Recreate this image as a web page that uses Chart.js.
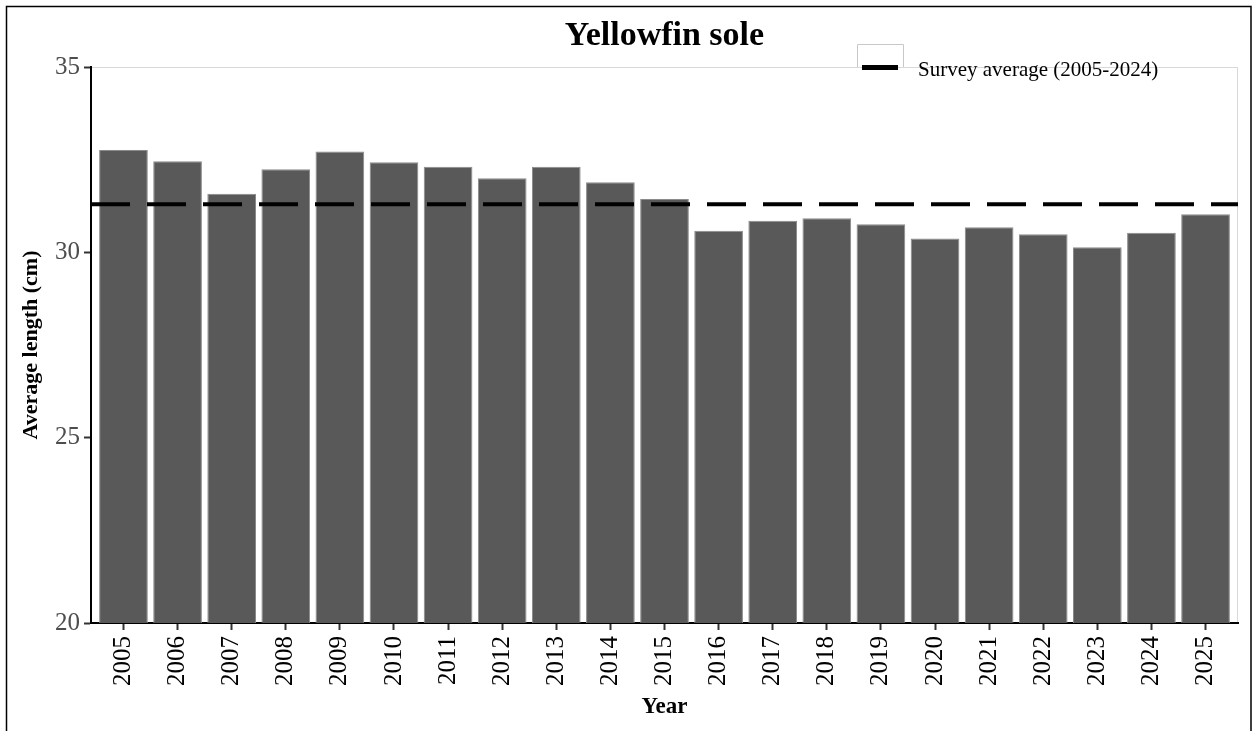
<!DOCTYPE html>
<html>
<head>
<meta charset="utf-8">
<script src="https://cdn.jsdelivr.net/npm/chart.js@4"></script>
<style>
  html, body { margin: 0; padding: 0; background: #ffffff; }
  #wrap { width: 1254px; height: 731px; position: relative; }
</style>
</head>
<body>
<div id="wrap"><canvas id="chart" width="1254" height="731"></canvas></div>
<script>
var years = [2005, 2006, 2007, 2008, 2009, 2010, 2011, 2012, 2013, 2014, 2015,
  2016, 2017, 2018, 2019, 2020, 2021, 2022, 2023, 2024, 2025];
var avgLength = [32.76, 32.46, 31.58, 32.24, 32.72, 32.43, 32.31, 32.00, 32.31, 31.89, 31.44,
  30.58, 30.85, 30.92, 30.76, 30.37, 30.68, 30.49, 30.14, 30.53, 31.03];
var surveyAverage = [31.30];
var yTicks = [20, 25, 30, 35];

var serif = "'Liberation Serif', 'DejaVu Serif', serif";

var frame = {
  id: 'frame',
  beforeDraw: function(chart) {
    var ctx = chart.ctx;
    var a = chart.chartArea;
    ctx.save();
    ctx.fillStyle = '#ffffff';
    ctx.fillRect(0, 0, chart.width, chart.height);
    // outer border
    ctx.strokeStyle = '#000000';
    ctx.lineWidth = 1.5;
    ctx.strokeRect(6.5, 6.5, 1244.5, 760);
    // light panel border
    ctx.strokeStyle = '#d9d9d9';
    ctx.lineWidth = 1;
    ctx.strokeRect(a.left + 0.5, a.top + 0.5, a.right - a.left - 1, a.bottom - a.top);
    ctx.restore();
  },
  afterDraw: function(chart) {
    var ctx = chart.ctx;
    var a = chart.chartArea;
    ctx.save();
    // title
    ctx.fillStyle = '#000000';
    ctx.font = 'bold 34px ' + serif;
    ctx.textAlign = 'center';
    ctx.textBaseline = 'alphabetic';
    ctx.fillText('Yellowfin sole', (a.left + a.right) / 2, 45);
    // legend key
    ctx.strokeStyle = '#c8c8c8';
    ctx.lineWidth = 1;
    ctx.beginPath();
    ctx.moveTo(857.5, 67);
    ctx.lineTo(857.5, 44.5);
    ctx.lineTo(903.5, 44.5);
    ctx.lineTo(903.5, 67);
    ctx.stroke();
    ctx.strokeStyle = '#000000';
    ctx.lineWidth = 5;
    ctx.beginPath();
    ctx.moveTo(862, 67.5);
    ctx.lineTo(898, 67.5);
    ctx.stroke();
    ctx.fillStyle = '#000000';
    ctx.font = '21px ' + serif;
    ctx.textAlign = 'left';
    ctx.fillText(chart.data.datasets[1].label, 918, 76);
    ctx.restore();
  }
};

var barData = years.map(function(yr, i) { return {x: yr, y: avgLength[i]}; });

new Chart(document.getElementById('chart'), {
  type: 'bar',
  data: {
    datasets: [{
      type: 'bar',
      label: 'Average length',
      data: barData,
      backgroundColor: '#595959',
      borderColor: '#8a8a8a',
      borderWidth: 1,
      barPercentage: 0.9,
      categoryPercentage: 1.0,
      grouped: false,
      order: 2
    }, {
      type: 'line',
      label: 'Survey average (2005-2024)',
      xAxisID: 'x2',
      data: [{x: 0, y: surveyAverage[0]}, {x: 1, y: surveyAverage[0]}],
      borderColor: '#000000',
      borderWidth: 4,
      borderDash: [39, 17],
      borderCapStyle: 'butt',
      pointRadius: 0,
      fill: false,
      order: 1
    }]
  },
  options: {
    responsive: false,
    animation: false,
    layout: { padding: { left: 0, right: 16, top: 67, bottom: 0 } },
    plugins: {
      legend: { display: false },
      title: { display: false },
      tooltip: { enabled: false }
    },
    scales: {
      x: {
        type: 'linear',
        offset: false,
        min: years[0] - 0.6,
        max: years[years.length - 1] + 0.6,
        afterBuildTicks: function(scale) {
          scale.ticks = years.map(function(v) { return {value: v}; });
        },
        grid: { display: true, offset: false, drawOnChartArea: false, tickLength: 7, tickColor: '#333333', tickWidth: 2 },
        border: { display: true, color: '#000000', width: 2 },
        ticks: {
          autoSkip: false,
          minRotation: 90,
          maxRotation: 90,
          color: '#000000',
          padding: 6,
          font: { family: serif, size: 25 },
          callback: function(v) { return String(v); }
        },
        title: {
          display: true,
          text: 'Year',
          color: '#000000',
          font: { family: serif, size: 23, weight: 'bold' },
          padding: { top: 0, bottom: 10 }
        },
        afterFit: function(scale) { scale.height = 108; }
      },
      x2: {
        type: 'linear',
        display: false,
        offset: false,
        min: 0,
        max: 1
      },
      y: {
        min: 20,
        max: 35,
        afterBuildTicks: function(scale) {
          scale.ticks = yTicks.map(function(v) { return {value: v}; });
        },
        grid: { display: true, drawOnChartArea: false, tickLength: 7, tickColor: '#333333', tickWidth: 2 },
        border: { display: true, color: '#000000', width: 2 },
        ticks: {
          color: '#4d4d4d',
          padding: 4,
          font: { family: serif, size: 25 }
        },
        title: {
          display: true,
          text: 'Average length (cm)',
          color: '#000000',
          font: { family: serif, size: 22, weight: 'bold' },
          padding: { top: 18, bottom: 0 }
        },
        afterFit: function(scale) { scale.width = 91; }
      }
    }
  },
  plugins: [frame]
});
</script>
</body>
</html>
